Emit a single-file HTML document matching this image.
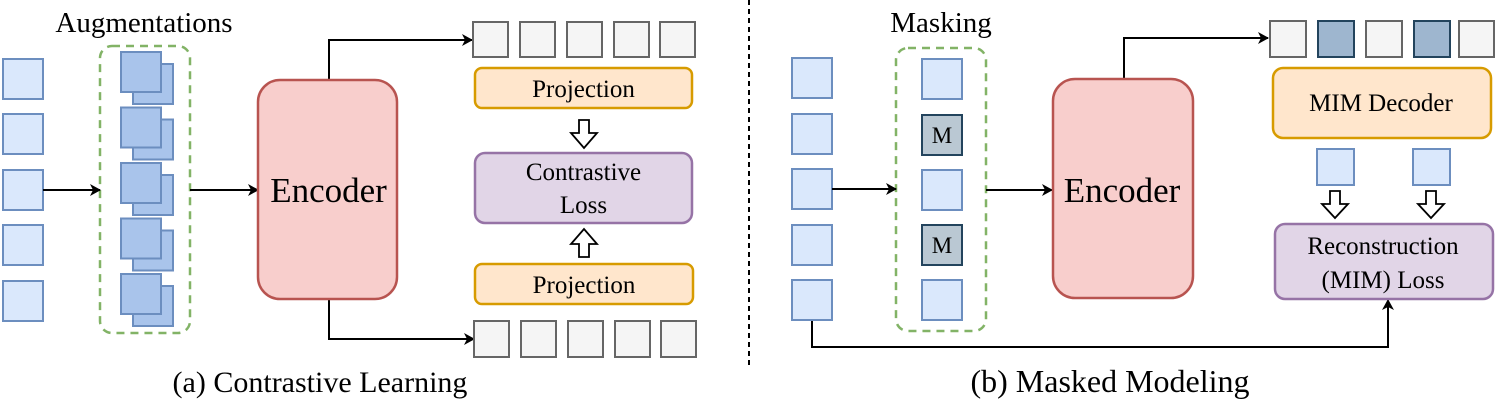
<!DOCTYPE html>
<html><head><meta charset="utf-8"><style>html,body{margin:0;padding:0;background:#fff}svg{display:block}</style></head><body>
<svg width="1495" height="405" viewBox="0 0 1495 405" xmlns="http://www.w3.org/2000/svg" font-family="Liberation Serif, serif">
<defs>
<marker id="ah" markerWidth="12" markerHeight="12" refX="10" refY="6" orient="auto" markerUnits="userSpaceOnUse">
<path d="M0,0 L11,6 L0,12 L3,6 Z" fill="#000"/></marker>
</defs>
<g fill="#dae8fc" stroke="#6c8ebf" stroke-width="2">
<rect x="3" y="59" width="40" height="40"/><rect x="3" y="114" width="40" height="40"/><rect x="3" y="170" width="40" height="40"/><rect x="3" y="225" width="40" height="40"/><rect x="3" y="281" width="40" height="40"/>
</g>
<rect x="100" y="46" width="90" height="287" rx="12" fill="none" stroke="#82b366" stroke-width="2.5" stroke-dasharray="8,6"/>
<g fill="#a9c4eb" stroke="#6c8ebf" stroke-width="2">
<rect x="133" y="64" width="40" height="40"/><rect x="121" y="52" width="40" height="40"/>
<rect x="133" y="119.5" width="40" height="40"/><rect x="121" y="107.5" width="40" height="40"/>
<rect x="133" y="175" width="40" height="40"/><rect x="121" y="163" width="40" height="40"/>
<rect x="133" y="230.5" width="40" height="40"/><rect x="121" y="218.5" width="40" height="40"/>
<rect x="133" y="286" width="40" height="40"/><rect x="121" y="274" width="40" height="40"/>
</g>
<text x="144" y="32" font-size="29" text-anchor="middle">Augmentations</text>
<g stroke="#000" stroke-width="2" fill="none">
<line x1="43" y1="190" x2="100" y2="190" marker-end="url(#ah)"/>
<line x1="190" y1="190" x2="258" y2="190" marker-end="url(#ah)"/>
<polyline points="329,80 329,40 472,40" marker-end="url(#ah)"/>
<polyline points="329,299 329,339 474,339" marker-end="url(#ah)"/>
</g>
<rect x="258" y="80" width="139" height="219" rx="22" fill="#f8cecc" stroke="#b85450" stroke-width="2.5"/>
<text x="328.5" y="202" font-size="35" text-anchor="middle">Encoder</text>
<g fill="#f5f5f5" stroke="#666" stroke-width="2">
<rect x="473" y="22" width="35" height="35"/><rect x="520" y="22" width="35" height="35"/><rect x="567" y="22" width="35" height="35"/><rect x="614" y="22" width="35" height="35"/><rect x="660" y="22" width="35" height="35"/>
<rect x="474" y="321" width="35" height="36"/><rect x="521" y="321" width="35" height="36"/><rect x="568" y="321" width="35" height="36"/><rect x="615" y="321" width="35" height="36"/><rect x="661" y="321" width="35" height="36"/>
</g>
<rect x="475" y="68" width="217" height="40" rx="7" fill="#ffe6cc" stroke="#d79b00" stroke-width="2.5"/>
<text x="583.5" y="97" font-size="25" text-anchor="middle">Projection</text>
<rect x="475" y="264" width="218" height="40" rx="7" fill="#ffe6cc" stroke="#d79b00" stroke-width="2.5"/>
<text x="584" y="293" font-size="25" text-anchor="middle">Projection</text>
<rect x="475" y="153" width="217" height="70" rx="10" fill="#e1d5e7" stroke="#9673a6" stroke-width="2.5"/>
<text x="583.5" y="180" font-size="25" text-anchor="middle">Contrastive</text>
<text x="583.5" y="213" font-size="25" text-anchor="middle">Loss</text>
<g fill="#fff" stroke="#000" stroke-width="1.8">
<path d="M579,120 L589,120 L589,133 L597,133 L584,148 L571,133 L579,133 Z"/>
<path d="M579,257 L589,257 L589,244 L597,244 L584,229 L571,244 L579,244 Z"/>
</g>
<text x="320" y="392" font-size="30" text-anchor="middle">(a) Contrastive Learning</text>
<line x1="749" y1="0" x2="749" y2="365" stroke="#000" stroke-width="2" stroke-dasharray="5,4"/>
<g fill="#dae8fc" stroke="#6c8ebf" stroke-width="2">
<rect x="792" y="58" width="40" height="40"/><rect x="792" y="114" width="40" height="40"/><rect x="792" y="169" width="40" height="40"/><rect x="792" y="225" width="40" height="40"/><rect x="792" y="280" width="40" height="40"/>
</g>
<rect x="896" y="48" width="90" height="283" rx="12" fill="none" stroke="#82b366" stroke-width="2.5" stroke-dasharray="8,6"/>
<g fill="#dae8fc" stroke="#6c8ebf" stroke-width="2">
<rect x="922" y="59" width="40" height="40"/><rect x="922" y="170" width="40" height="40"/><rect x="922" y="280" width="40" height="40"/>
</g>
<g fill="#bac8d3" stroke="#23445d" stroke-width="2">
<rect x="922" y="115" width="40" height="40"/><rect x="922" y="225" width="40" height="40"/>
</g>
<text x="942" y="143" font-size="23" text-anchor="middle">M</text>
<text x="942" y="253" font-size="23" text-anchor="middle">M</text>
<text x="941" y="32" font-size="29" text-anchor="middle">Masking</text>
<g stroke="#000" stroke-width="2" fill="none">
<line x1="832" y1="189" x2="896" y2="189" marker-end="url(#ah)"/>
<line x1="986" y1="190" x2="1052" y2="190" marker-end="url(#ah)"/>
<polyline points="1124,79 1124,38 1268,38" marker-end="url(#ah)"/>
<polyline points="812,321 812,347 1388,347 1388,300" marker-end="url(#ah)"/>
</g>
<rect x="1053" y="79" width="140" height="219" rx="22" fill="#f8cecc" stroke="#b85450" stroke-width="2.5"/>
<text x="1122" y="202" font-size="35" text-anchor="middle">Encoder</text>
<g stroke-width="2">
<rect x="1270" y="21" width="36" height="36" fill="#f5f5f5" stroke="#666"/>
<rect x="1318" y="21" width="36" height="36" fill="#9eb6cf" stroke="#23445d"/>
<rect x="1366" y="21" width="36" height="36" fill="#f5f5f5" stroke="#666"/>
<rect x="1414" y="21" width="36" height="36" fill="#9eb6cf" stroke="#23445d"/>
<rect x="1459" y="21" width="35" height="36" fill="#f5f5f5" stroke="#666"/>
</g>
<rect x="1273" y="68" width="218" height="70" rx="10" fill="#ffe6cc" stroke="#d79b00" stroke-width="2.5"/>
<text x="1381" y="111" font-size="25" text-anchor="middle">MIM Decoder</text>
<g fill="#dae8fc" stroke="#6c8ebf" stroke-width="2">
<rect x="1317" y="149" width="37" height="36"/><rect x="1413" y="149" width="37" height="36"/>
</g>
<g fill="#fff" stroke="#000" stroke-width="1.8">
<path d="M1330,191 L1340,191 L1340,204 L1348,204 L1335,218 L1322,204 L1330,204 Z"/>
<path d="M1426,191 L1436,191 L1436,204 L1444,204 L1431,218 L1418,204 L1426,204 Z"/>
</g>
<rect x="1275" y="224" width="218" height="75" rx="10" fill="#e1d5e7" stroke="#9673a6" stroke-width="2.5"/>
<text x="1383" y="254" font-size="25" text-anchor="middle">Reconstruction</text>
<text x="1383" y="288" font-size="25" text-anchor="middle">(MIM) Loss</text>
<text x="1110" y="392" font-size="32" text-anchor="middle">(b) Masked Modeling</text>
</svg>
</body></html>
